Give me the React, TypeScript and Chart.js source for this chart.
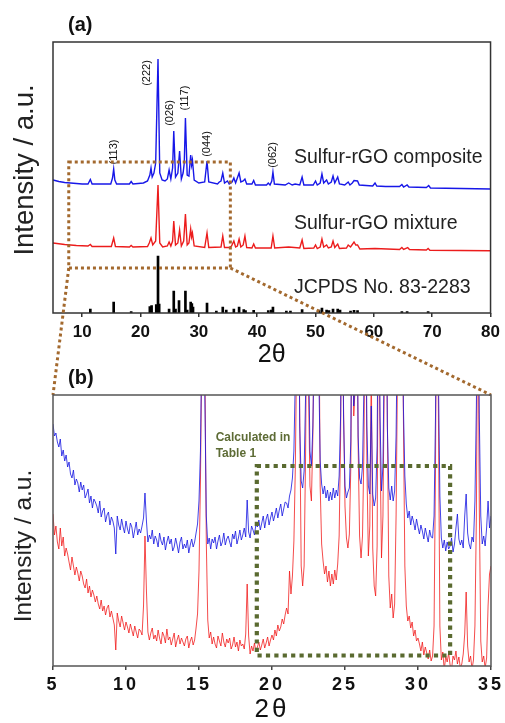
import React, { useEffect, useRef } from 'react';
import { Chart, registerables } from 'chart.js';

Chart.register(...registerables);

const FONT = "Arial, 'Liberation Sans', sans-serif";

// ---------- Panel (a): full pattern, 2θ 5–80 ----------
const A_TICKS = [10, 20, 30, 40, 50, 60, 70, 80];

// [2θ, intensity a.u.]
const compositeA: number[][] = [
  [5, 133], [6, 131.5], [7, 130.5], [8, 130], [9, 129.5], [10, 129], [11, 129], [11.4, 133.5], [11.7, 129],
  [14.9, 129], [15.2, 135], [15.4, 144], [15.6, 133], [15.9, 129], [18.1, 129], [18.4, 131.5], [18.7, 129],
  [20.5, 130], [21.2, 132], [21.6, 138], [21.8, 145], [22.0, 136], [22.3, 140], [22.6, 150], [23.0, 254],
  [23.3, 140], [23.7, 133], [24.2, 132], [24.6, 134], [24.9, 143], [25.2, 134], [25.5, 145], [25.7, 182],
  [26.0, 136], [26.4, 140], [26.7, 162], [27.0, 134], [27.3, 140], [27.5, 150], [27.7, 195], [28.0, 138],
  [28.3, 137], [28.6, 158], [28.75, 148], [28.9, 153], [29.2, 133], [30, 130], [31.0, 131], [31.4, 152],
  [31.7, 131], [33.2, 129], [33.5, 131], [33.8, 132], [34.1, 140], [34.4, 130], [34.9, 132], [35.2, 129],
  [35.7, 131], [36.0, 135], [36.3, 130], [36.9, 140], [37.2, 131], [37.6, 132], [37.9, 134], [38.2, 129],
  [39.1, 129], [39.4, 132.5], [39.7, 128], [41.6, 128], [41.9, 130], [42.2, 128], [42.5, 132], [42.7, 141],
  [42.95, 129], [44.8, 128], [45.4, 130], [46.0, 128], [46.5, 129], [47.3, 128], [47.7, 136], [48.0, 128],
  [49.6, 128], [50.0, 132], [50.3, 128], [50.8, 130], [51.1, 139], [51.4, 130], [51.9, 133], [52.2, 129],
  [52.7, 131], [53.0, 137], [53.3, 130], [53.8, 136], [54.1, 129], [55.0, 128], [55.6, 131], [55.9, 128],
  [56.3, 130], [56.6, 132.5], [57.2, 132], [57.5, 128], [59.8, 127], [60.2, 130], [60.5, 127], [62, 126.5],
  [64.4, 126.5], [64.8, 128.5], [65.1, 126], [65.7, 128], [66.0, 126], [69.0, 125.5], [69.4, 127.5],
  [69.7, 125], [75, 124.5], [80, 124],
];

const mixtureA: number[][] = [
  [5, 70], [7, 68.5], [9, 67.5], [11, 67], [11.4, 68.5], [11.7, 66.5], [15.0, 66.5], [15.4, 75], [15.7, 66.5],
  [18.1, 66], [18.4, 67.5], [18.7, 66], [21.2, 66.5], [21.5, 70], [21.8, 75], [22.1, 68], [22.6, 72],
  [23.0, 128], [23.3, 70], [23.8, 66], [24.6, 67], [24.9, 71], [25.2, 67], [25.5, 72], [25.7, 92], [26.0, 68],
  [26.4, 70], [26.7, 83], [27.0, 67], [27.4, 72], [27.7, 99], [28.0, 68], [28.3, 70], [28.6, 84], [28.75, 76],
  [28.9, 80], [29.2, 67], [31.0, 65.5], [31.4, 80], [31.7, 65.5], [33.8, 66], [34.1, 77], [34.4, 65.5],
  [35.2, 65.5], [35.6, 67], [36.0, 72], [36.3, 66], [36.6, 67], [36.9, 74], [37.2, 66], [37.6, 68], [37.9, 77],
  [38.2, 65.5], [39.1, 65], [39.4, 69], [39.7, 65], [42.4, 65], [42.7, 77], [43.0, 65], [45.4, 66], [47.3, 65],
  [47.7, 73], [48.0, 64.5], [49.7, 65], [50.0, 68], [50.3, 64.5], [50.8, 66], [51.1, 74], [51.4, 66],
  [51.9, 68], [52.2, 65], [52.7, 66], [53.0, 72], [53.3, 65.5], [53.8, 69], [54.1, 64.5], [55.3, 65],
  [55.6, 68], [56.0, 66], [56.6, 71], [56.9, 68], [57.2, 68], [57.6, 64], [60.2, 64.5], [64.4, 63.5],
  [64.8, 65.5], [65.1, 63.5], [65.8, 65.5], [66.1, 63.5], [69.0, 63], [69.3, 64.5], [69.6, 62.8], [80, 62.3],
];

// JCPDS No. 83-2283 reference lines [2θ, relative height]
const jcpdsA: number[][] = [
  [11.4, 4], [15.4, 11], [18.4, 1.5], [21.6, 6.5], [21.9, 7.3], [22.7, 8.3], [23.0, 57], [23.2, 9], [24.9, 4],
  [25.7, 22], [26.0, 4], [26.6, 12.3], [27.7, 22], [28.0, 3], [28.6, 11], [28.8, 9.3], [29.0, 6], [31.4, 10],
  [33.0, 2], [34.1, 6], [34.7, 3], [36.0, 4], [36.9, 6], [37.7, 3.3], [38.0, 2.5], [39.4, 2.7], [41.9, 2.5],
  [42.4, 3], [42.7, 6], [45.0, 2], [45.7, 2], [47.7, 3.3], [50.6, 3], [51.1, 5], [51.9, 3], [52.3, 2.5],
  [53.0, 4], [53.8, 4], [54.2, 3], [56.0, 2], [56.6, 2.7], [57.2, 2.3], [64.8, 1.5], [65.7, 1.5], [69.3, 1.5],
];

const PEAK_LABELS = ['(113)', '(222)', '(026)', '(117)', '(044)', '(062)'];
const PEAK_LABEL_X = [15.4, 21.05, 25.0, 27.6, 31.4, 42.7];
const PEAK_LABEL_Y = [161, 240, 200, 215, 169, 158];

const SERIES_NAMES = ['Sulfur-rGO composite', 'Sulfur-rGO mixture', 'JCPDS No. 83-2283'];
const SERIES_LABEL_X = 46.3;
const SERIES_LABEL_Y = [155, 89, 25];

// zoom box in (a): 2θ range and intensity range
const ZOOM_X = [7.7, 35.4];
const ZOOM_Y = [45, 151];

// ---------- Panel (b): zoom 2θ 5–35, sampled every 0.1° ----------
const B_TICKS = [5, 10, 15, 20, 25, 30, 35];
const B_X0 = 5;
const B_DX = 0.1;

const compositeB: number[] = [
  242, 230, 233, 224, 219, 227, 210, 216, 205, 211, // 5
  199, 204, 192, 188, 196, 181, 187, 183, 174, 184, // 6
  176, 181, 168, 172, 177, 163, 170, 158, 167, 164, // 7
  160, 153, 165, 149, 155, 158, 144, 151, 154, 141, // 8
  149, 145, 138, 112, 150, 141, 136, 147, 139, 133, // 9
  145, 137, 132, 143, 139, 128, 136, 144, 131, 137, // 10
  133, 140, 148, 173, 145, 124, 131, 127, 136, 122, // 11
  130, 126, 119, 133, 125, 121, 129, 116, 124, 130, // 12
  122, 127, 115, 119, 128, 121, 113, 124, 129, 117, // 13
  122, 118, 126, 113, 121, 127, 119, 124, 133, 142, // 14
  165, 215, 330, 420, 270, 150, 122, 128, 117, 127, // 15
  123, 129, 117, 125, 131, 120, 124, 133, 121, 127, // 16
  130, 124, 119, 132, 127, 135, 122, 128, 136, 126, // 17
  131, 138, 129, 166, 134, 128, 140, 136, 131, 142, // 18
  139, 146, 136, 143, 150, 138, 147, 152, 141, 148, // 19
  154, 145, 151, 158, 148, 156, 162, 150, 157, 164, // 20
  163, 158, 170, 176, 188, 215, 290, 380, 420, 240, // 21
  185, 178, 195, 270, 410, 320, 215, 200, 240, 330, // 22
  450, 520, 300, 205, 182, 172, 180, 168, 176, 165, // 23
  174, 166, 178, 168, 176, 170, 190, 250, 420, 250, // 24
  180, 168, 174, 178, 225, 420, 260, 290, 420, 230, // 25
  188, 182, 200, 280, 420, 240, 180, 172, 260, 172, // 26
  160, 168, 220, 420, 250, 175, 200, 330, 450, 240, // 27
  178, 166, 180, 165, 175, 230, 360, 450, 380, 430, // 28
  260, 190, 162, 148, 155, 141, 150, 144, 136, 147, // 29
  139, 132, 141, 135, 127, 138, 131, 124, 136, 129, // 30
  128, 150, 250, 430, 290, 170, 128, 118, 126, 115, // 31
  124, 117, 120, 128, 114, 122, 138, 152, 127, 121, // 32
  126, 118, 150, 172, 133, 122, 117, 129, 124, 165, // 33
  260, 430, 250, 150, 122, 130, 120, 138, 165, 138, // 34
  150, // 35
];

const mixtureB: number[] = [
  152, 131, 140, 124, 117, 138, 120, 129, 110, 118, // 5
  112, 104, 96, 109, 100, 91, 99, 93, 85, 95, // 6
  90, 82, 78, 87, 73, 80, 69, 76, 71, 64, // 7
  70, 62, 57, 66, 55, 60, 51, 58, 61, 49, // 8
  55, 48, 41, 16, 53, 45, 39, 50, 43, 36, // 9
  44, 39, 33, 42, 36, 30, 40, 34, 28, 37, // 10
  35, 31, 60, 130, 75, 34, 26, 33, 38, 27, // 11
  31, 25, 36, 28, 22, 34, 30, 23, 37, 26, // 12
  29, 21, 27, 33, 19, 26, 31, 22, 28, 24, // 13
  20, 27, 30, 18, 25, 29, 21, 26, 38, 52, // 14
  95, 185, 330, 430, 310, 125, 46, 28, 34, 22, // 15
  29, 22, 18, 30, 25, 20, 33, 24, 19, 27, // 16
  23, 28, 17, 21, 29, 19, 24, 15, 26, 20, // 17
  22, 17, 32, 82, 30, 12, 20, 15, 23, 14, // 18
  19, 24, 16, 21, 27, 18, 23, 29, 20, 26, // 19
  31, 26, 36, 30, 41, 35, 39, 47, 42, 51, // 20
  58, 52, 95, 72, 90, 125, 200, 330, 430, 250, // 21
  100, 80, 100, 210, 410, 280, 180, 165, 230, 360, // 22
  500, 600, 400, 180, 122, 105, 92, 100, 84, 95, // 23
  80, 92, 82, 96, 86, 102, 130, 230, 430, 260, // 24
  160, 128, 118, 132, 200, 430, 250, 280, 430, 220, // 25
  130, 108, 130, 220, 430, 200, 110, 140, 300, 118, // 26
  80, 70, 120, 430, 220, 108, 150, 300, 460, 250, // 27
  90, 58, 72, 48, 62, 150, 300, 460, 380, 430, // 28
  250, 100, 60, 45, 50, 38, 44, 30, 36, 25, // 29
  28, 22, 15, 24, 11, 19, 13, 7, 16, 5, // 30
  10, 40, 200, 460, 250, 40, 6, 14, -4, 10, // 31
  4, 13, 1, -3, 10, 6, 15, 2, 9, -2, // 32
  2, 12, 32, 74, 20, 4, 10, -3, 6, 40, // 33
  150, 410, 160, 25, 4, 10, -2, 8, 60, 92, // 34
  100, // 35
];

// "Calculated in Table 1" box in (b)
const CALC_X = [18.96, 32.2];
const CALC_Y = [10.5, 200];
const CALC_TEXT = ['Calculated in', 'Table 1'];
const CALC_TEXT_X = 16.14;
const CALC_TEXT_Y = [228, 212];

const toPts = (arr: number[][]) => arr.map(([x, y]) => ({ x, y }));
const toGrid = (arr: number[]) =>
  arr.map((y, i) => ({ x: Math.round((B_X0 + i * B_DX) * 10) / 10, y }));

const BROWN = '#a3692e';
const OLIVE = '#5a6a30';

export default function App() {
  const refA = useRef<HTMLCanvasElement>(null);
  const refB = useRef<HTMLCanvasElement>(null);

  useEffect(() => {
    const B_TOP = 330;

    const pluginB = {
      id: 'decorB',
      beforeDraw(chart: any) {
        (chart.ctx as any).letterSpacing = '3px';
      },
      afterDraw(chart: any) {
        const ctx = chart.ctx;
        (ctx as any).letterSpacing = '0px';
        const { left, right, top, bottom } = chart.chartArea;
        const xs = chart.scales.x;
        const ys = chart.scales.y;
        ctx.save();
        ctx.strokeStyle = '#555';
        ctx.lineWidth = 1.5;
        ctx.strokeRect(left, top, right - left, bottom - top);
        ctx.strokeStyle = OLIVE;
        ctx.lineWidth = 4.2;
        ctx.setLineDash([4.2, 4.2]);
        const bx0 = xs.getPixelForValue(CALC_X[0]);
        const bx1 = xs.getPixelForValue(CALC_X[1]);
        const by0 = ys.getPixelForValue(CALC_Y[0]);
        const by1 = ys.getPixelForValue(CALC_Y[1]);
        ctx.strokeRect(bx0, by1, bx1 - bx0, by0 - by1);
        ctx.setLineDash([]);
        ctx.fillStyle = '#5d6b35';
        ctx.font = `bold 12px ${FONT}`;
        ctx.textAlign = 'left';
        ctx.textBaseline = 'middle';
        CALC_TEXT.forEach((t, i) => {
          ctx.fillText(t, xs.getPixelForValue(CALC_TEXT_X), ys.getPixelForValue(CALC_TEXT_Y[i]));
        });
        ctx.fillStyle = '#111';
        ctx.font = `bold 20px ${FONT}`;
        ctx.fillText('(b)', left + 15, top - 17);
        ctx.translate(24, top + 151);
        ctx.rotate(-Math.PI / 2);
        ctx.textAlign = 'center';
        ctx.font = `24.5px ${FONT}`;
        ctx.fillStyle = '#222';
        ctx.fillText('Intensity / a.u.', 0, 0);
        ctx.restore();
      },
    };

    const chartB = new Chart(refB.current as HTMLCanvasElement, {
      type: 'line',
      data: {
        datasets: [
          {
            label: 'Sulfur-rGO composite',
            data: toGrid(compositeB),
            borderColor: 'rgba(20,20,225,0.8)',
            borderWidth: 1,
            pointRadius: 0,
            tension: 0,
          },
          {
            label: 'Sulfur-rGO mixture',
            data: toGrid(mixtureB),
            borderColor: 'rgba(240,20,20,0.85)',
            borderWidth: 0.9,
            pointRadius: 0,
            tension: 0,
          },
        ],
      },
      options: {
        responsive: false,
        animation: false,
        devicePixelRatio: 1,
        layout: { padding: { left: 53, right: 12, top: 65, bottom: 0 } },
        plugins: { legend: { display: false }, tooltip: { enabled: false } },
        scales: {
          x: {
            type: 'linear',
            min: 5,
            max: 35,
            offset: false,
            afterBuildTicks: (s: any) => {
              s.ticks = B_TICKS.map((v) => ({ value: v }));
            },
            afterFit: (s: any) => {
              s.height = 57;
            },
            ticks: { font: { family: FONT, size: 18, weight: 'bold' }, color: '#111', padding: 4, maxRotation: 0, autoSkip: false },
            grid: { display: true, drawOnChartArea: false, drawTicks: true, tickLength: 4, color: '#444', lineWidth: 1.5, offset: false },
            border: { display: false },
            title: { display: true, text: '2θ', font: { family: FONT, size: 26, lineHeight: 1 }, color: '#111', padding: { top: 0, bottom: 0 } },
          },
          y: { display: false, min: 0, max: 271 },
        },
      } as any,
      plugins: [pluginB],
    });

    const pluginA = {
      id: 'decorA',
      afterDraw(chart: any) {
        const ctx = chart.ctx;
        const { left, right, top, bottom } = chart.chartArea;
        const xs = chart.scales.x;
        const ys = chart.scales.y;
        ctx.save();
        ctx.strokeStyle = '#333';
        ctx.lineWidth = 1.5;
        ctx.strokeRect(left, top, right - left, bottom - top);

        ctx.fillStyle = '#111';
        ctx.font = `11px ${FONT}`;
        ctx.textAlign = 'center';
        ctx.textBaseline = 'middle';
        PEAK_LABELS.forEach((t, i) => {
          ctx.save();
          ctx.translate(xs.getPixelForValue(PEAK_LABEL_X[i]), ys.getPixelForValue(PEAK_LABEL_Y[i]));
          ctx.rotate(-Math.PI / 2);
          ctx.fillText(t, 0, 0);
          ctx.restore();
        });

        ctx.font = `19.5px ${FONT}`;
        ctx.fillStyle = '#222';
        ctx.textAlign = 'left';
        SERIES_NAMES.forEach((t, i) => {
          ctx.fillText(t, xs.getPixelForValue(SERIES_LABEL_X), ys.getPixelForValue(SERIES_LABEL_Y[i]));
        });

        ctx.fillStyle = '#111';
        ctx.font = `bold 20px ${FONT}`;
        ctx.fillText('(a)', left + 15, top - 17);

        const zx0 = xs.getPixelForValue(ZOOM_X[0]);
        const zx1 = xs.getPixelForValue(ZOOM_X[1]);
        const zyTop = ys.getPixelForValue(ZOOM_Y[1]);
        const zyBot = ys.getPixelForValue(ZOOM_Y[0]);
        ctx.strokeStyle = BROWN;
        ctx.lineWidth = 3;
        ctx.setLineDash([3, 3]);
        ctx.strokeRect(zx0, zyTop, zx1 - zx0, zyBot - zyTop);
        const ca = chartB.chartArea;
        ctx.beginPath();
        ctx.moveTo(zx0, zyBot);
        ctx.lineTo(ca.left, ca.top + B_TOP);
        ctx.moveTo(zx1, zyBot);
        ctx.lineTo(ca.right, ca.top + B_TOP);
        ctx.stroke();
        ctx.setLineDash([]);

        ctx.translate(25, 170);
        ctx.rotate(-Math.PI / 2);
        ctx.textAlign = 'center';
        ctx.font = `27.5px ${FONT}`;
        ctx.fillStyle = '#222';
        ctx.fillText('Intensity / a.u.', 0, 0);
        ctx.restore();
      },
    };

    const chartA = new Chart(refA.current as HTMLCanvasElement, {
      type: 'line',
      data: {
        datasets: [
          {
            label: SERIES_NAMES[0],
            data: toPts(compositeA),
            borderColor: '#1717e8',
            borderWidth: 1.4,
            pointRadius: 0,
            tension: 0,
          },
          {
            label: SERIES_NAMES[1],
            data: toPts(mixtureA),
            borderColor: '#ec1c1c',
            borderWidth: 1.4,
            pointRadius: 0,
            tension: 0,
          },
          {
            type: 'bar',
            label: SERIES_NAMES[2],
            data: toPts(jcpdsA),
            backgroundColor: '#000',
            barThickness: 2,
            grouped: false,
          } as any,
        ],
      },
      options: {
        responsive: false,
        animation: false,
        devicePixelRatio: 1,
        layout: { padding: { left: 53, right: 12, top: 42, bottom: 355 } },
        plugins: { legend: { display: false }, tooltip: { enabled: false } },
        scales: {
          x: {
            type: 'linear',
            min: 5,
            max: 80,
            offset: false,
            afterBuildTicks: (s: any) => {
              s.ticks = A_TICKS.map((v) => ({ value: v }));
            },
            afterFit: (s: any) => {
              s.height = 55;
            },
            ticks: { font: { family: FONT, size: 17, weight: 'bold' }, color: '#111', padding: 5, maxRotation: 0, autoSkip: false },
            grid: { display: true, drawOnChartArea: false, drawTicks: true, tickLength: 4, color: '#333', lineWidth: 1.5, offset: false },
            border: { display: false },
            title: { display: true, text: '2θ', font: { family: FONT, size: 25, lineHeight: 1 }, color: '#111', padding: { top: 0, bottom: 0 } },
          },
          y: { display: false, min: 0, max: 271 },
        },
      } as any,
      plugins: [pluginA],
    });

    return () => {
      chartA.destroy();
      chartB.destroy();
    };
  }, []);

  return (
    <div style={{ position: 'absolute', left: 0, top: 0, width: 505, height: 723, background: '#fff' }}>
      <canvas ref={refA} width={505} height={723} style={{ position: 'absolute', left: 0, top: 0 }} />
      <canvas ref={refB} width={505} height={393} style={{ position: 'absolute', left: 0, top: 330 }} />
    </div>
  );
}
